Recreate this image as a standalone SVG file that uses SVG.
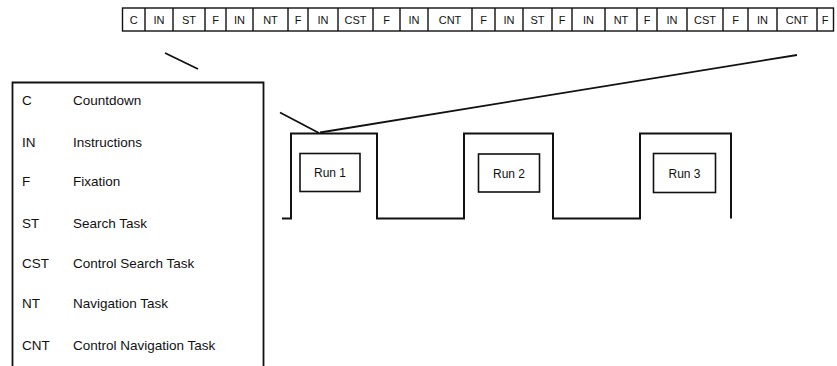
<svg xmlns="http://www.w3.org/2000/svg" width="837" height="366" viewBox="0 0 837 366">
<style>
.cell{fill:#fff;stroke:#111;stroke-width:1.4}
.bt{font-family:"Liberation Sans",Arial,sans-serif;font-size:11px;fill:#111;text-anchor:middle}
.lt{font-family:"Liberation Sans",Arial,sans-serif;font-size:13.5px;fill:#111}
.rt{font-family:"Liberation Sans",Arial,sans-serif;font-size:12px;fill:#111;text-anchor:middle}
.box{fill:#fff;stroke:#111;stroke-width:1.6}
.wave{fill:none;stroke:#111;stroke-width:2}
.conn{fill:none;stroke:#111;stroke-width:1.8}
</style>
<rect width="837" height="366" fill="#fff"/>
<g id="timeline">
<rect class="cell" x="122.5" y="8" width="711" height="23"/>
<path d="M145 8V31M173 8V31M205 8V31M226 8V31M253 8V31M288 8V31M308 8V31M338 8V31M373 8V31M400 8V31M428 8V31M472 8V31M495 8V31M523 8V31M552 8V31M572 8V31M605 8V31M637 8V31M657 8V31M687 8V31M723 8V31M748 8V31M777 8V31M817 8V31" stroke="#111" stroke-width="1.4"/>
<text class="bt" x="133.8" y="23.5">C</text>
<text class="bt" x="159" y="23.5">IN</text>
<text class="bt" x="189" y="23.5">ST</text>
<text class="bt" x="215.5" y="23.5">F</text>
<text class="bt" x="239.5" y="23.5">IN</text>
<text class="bt" x="270.5" y="23.5">NT</text>
<text class="bt" x="298" y="23.5">F</text>
<text class="bt" x="323" y="23.5">IN</text>
<text class="bt" x="355.5" y="23.5">CST</text>
<text class="bt" x="386.5" y="23.5">F</text>
<text class="bt" x="414" y="23.5">IN</text>
<text class="bt" x="450" y="23.5">CNT</text>
<text class="bt" x="483.5" y="23.5">F</text>
<text class="bt" x="509" y="23.5">IN</text>
<text class="bt" x="537.5" y="23.5">ST</text>
<text class="bt" x="562" y="23.5">F</text>
<text class="bt" x="588.5" y="23.5">IN</text>
<text class="bt" x="621" y="23.5">NT</text>
<text class="bt" x="647" y="23.5">F</text>
<text class="bt" x="672" y="23.5">IN</text>
<text class="bt" x="705" y="23.5">CST</text>
<text class="bt" x="735.5" y="23.5">F</text>
<text class="bt" x="762.5" y="23.5">IN</text>
<text class="bt" x="797" y="23.5">CNT</text>
<text class="bt" x="825" y="23.5">F</text>
</g>
<g id="legend">
<path d="M12.5 370V82.5H263.5V370" fill="none" stroke="#111" stroke-width="1.8"/>
<text class="lt" x="22" y="105">C</text><text class="lt" x="73" y="105">Countdown</text>
<text class="lt" x="22" y="146.5">IN</text><text class="lt" x="73" y="146.5">Instructions</text>
<text class="lt" x="22" y="186">F</text><text class="lt" x="73" y="186">Fixation</text>
<text class="lt" x="22" y="228">ST</text><text class="lt" x="73" y="228">Search Task</text>
<text class="lt" x="22" y="268">CST</text><text class="lt" x="73" y="268">Control Search Task</text>
<text class="lt" x="22" y="307.5">NT</text><text class="lt" x="73" y="307.5">Navigation Task</text>
<text class="lt" x="22" y="350">CNT</text><text class="lt" x="73" y="350">Control Navigation Task</text>
</g>
<g id="signal">
<path class="wave" d="M282 218.5H291V133.5H377V218.5H464V133.5H553V218.5H640V133.5H731V218.5"/>
</g>
<g id="run1"><rect class="box" x="300" y="153.5" width="60" height="38"/><text class="rt" x="330" y="177">Run 1</text></g>
<g id="run2"><rect class="box" x="478.5" y="154" width="61" height="38"/><text class="rt" x="509" y="177.5">Run 2</text></g>
<g id="run3"><rect class="box" x="653.5" y="153.5" width="62" height="39"/><text class="rt" x="684.5" y="177.5">Run 3</text></g>
<g id="connectors">
<line class="conn" x1="165" y1="53" x2="198" y2="69"/>
<line class="conn" x1="280" y1="112.5" x2="319" y2="133"/>
<line class="conn" x1="320" y1="132.5" x2="797" y2="55"/>
</g>
</svg>
